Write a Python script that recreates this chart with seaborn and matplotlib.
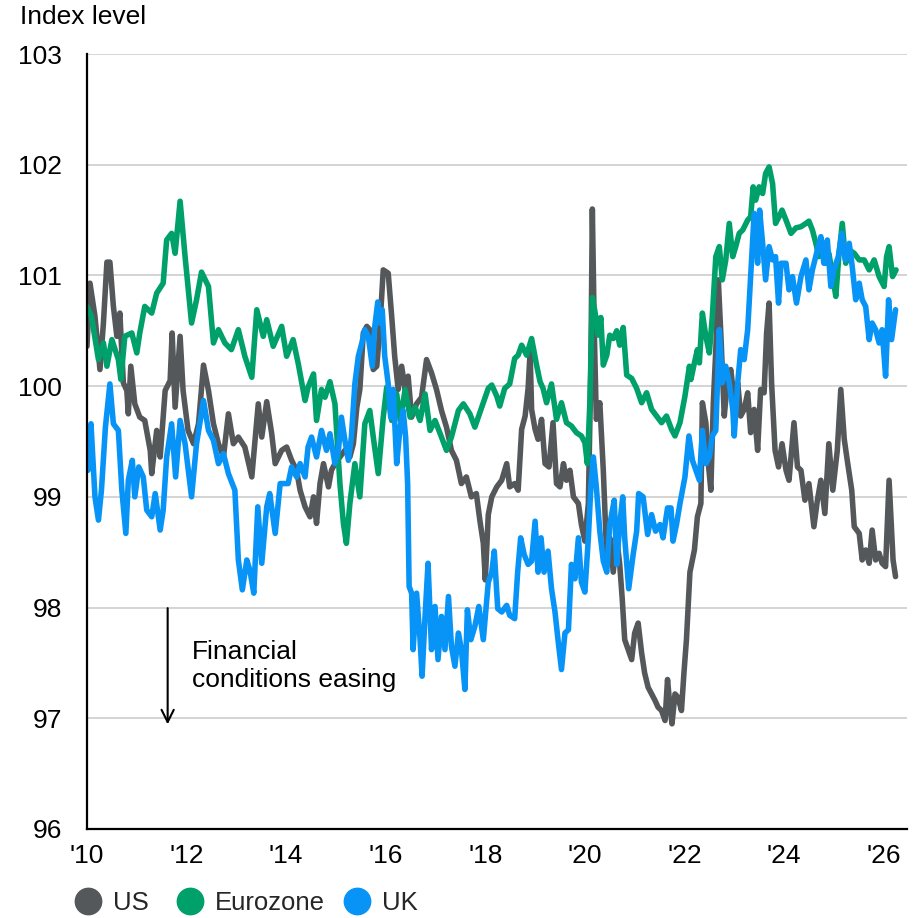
import matplotlib
matplotlib.use("Agg")
import matplotlib.pyplot as plt
from matplotlib.lines import Line2D
import seaborn as sns
import pandas as pd

# ---------------- data ----------------
series_names = ["US", "Eurozone", "UK"]
series_colors = ["#55585A", "#00A06B", "#0894F7"]

us_dates = [2010.0, 2010.06, 2010.16, 2010.26, 2010.33, 2010.4, 2010.46, 2010.53, 2010.6, 2010.66,
            2010.73, 2010.8, 2010.83, 2010.88, 2010.96, 2011.06, 2011.16, 2011.27, 2011.3, 2011.4,
            2011.47, 2011.57, 2011.67, 2011.71, 2011.77, 2011.87, 2011.93, 2012.03, 2012.14, 2012.24,
            2012.34, 2012.44, 2012.54, 2012.64, 2012.74, 2012.84, 2012.94, 2013.04, 2013.17, 2013.31,
            2013.37, 2013.44, 2013.51, 2013.61, 2013.71, 2013.78, 2013.91, 2014.01,
            2014.11, 2014.21, 2014.28, 2014.38, 2014.48, 2014.55, 2014.61, 2014.68, 2014.75, 2014.85,
            2014.91, 2014.98, 2015.08, 2015.18, 2015.28, 2015.35, 2015.42, 2015.48, 2015.55, 2015.62,
            2015.68, 2015.75, 2015.82, 2015.88, 2015.95, 2016.05, 2016.12, 2016.18, 2016.25, 2016.32,
            2016.39, 2016.45, 2016.52, 2016.62, 2016.72, 2016.82, 2016.92, 2017.02, 2017.12, 2017.22,
            2017.32, 2017.42, 2017.52, 2017.62, 2017.72, 2017.82, 2017.89, 2017.96, 2018.0,
            2018.06, 2018.13, 2018.23, 2018.33, 2018.43, 2018.49, 2018.59, 2018.66, 2018.73, 2018.8,
            2018.86, 2018.9, 2018.93, 2019.0, 2019.06, 2019.13, 2019.2, 2019.28, 2019.36, 2019.43,
            2019.5, 2019.57, 2019.63, 2019.7, 2019.77, 2019.87, 2019.93, 2020.0, 2020.07, 2020.12,
            2020.15, 2020.19, 2020.23, 2020.3, 2020.37, 2020.44, 2020.5, 2020.57, 2020.64, 2020.7,
            2020.75, 2020.8, 2020.87, 2020.94, 2021.0, 2021.07, 2021.14, 2021.2, 2021.27, 2021.34,
            2021.41, 2021.47, 2021.54, 2021.61, 2021.66, 2021.71, 2021.75, 2021.81, 2021.87, 2021.94,
            2021.99, 2022.04, 2022.11,
            2022.2, 2022.26, 2022.33, 2022.36, 2022.43, 2022.48, 2022.53, 2022.58, 2022.63, 2022.68,
            2022.73, 2022.8, 2022.86, 2022.93, 2023.0, 2023.07, 2023.13, 2023.2, 2023.27, 2023.33,
            2023.4, 2023.47, 2023.53, 2023.6, 2023.65, 2023.7, 2023.75, 2023.82, 2023.89, 2023.96,
            2024.04, 2024.1, 2024.2, 2024.27, 2024.34, 2024.42, 2024.5, 2024.6, 2024.67, 2024.74,
            2024.82, 2024.9, 2024.98, 2025.07, 2025.14, 2025.21, 2025.27, 2025.36, 2025.41, 2025.51,
            2025.57, 2025.64, 2025.71, 2025.77, 2025.84, 2025.91, 2025.97, 2026.04, 2026.11, 2026.14,
            2026.19, 2026.24]
us_vals = [100.36, 100.93, 100.63, 100.15, 100.57, 101.12, 101.12, 100.72, 100.45, 100.66,
           100.03, 99.96, 99.75, 100.18, 99.84, 99.72, 99.69, 99.42, 99.21, 99.6,
           99.36, 99.96, 100.05, 100.48, 99.81, 100.45, 99.96, 99.6, 99.48, 99.66,
           100.19, 99.96, 99.66, 99.48, 99.36, 99.75, 99.48, 99.54, 99.45, 99.18,
           99.48, 99.84, 99.54, 99.86, 99.57, 99.3, 99.42, 99.45,
           99.33, 99.24, 99.06, 98.91, 98.82, 99.0, 98.76, 99.12, 99.3, 99.09,
           99.24, 99.3, 99.36, 99.42, 99.36, 99.48, 99.81, 99.97, 100.48, 100.54,
           100.51, 100.15, 100.18, 100.51, 101.05, 101.02, 100.63, 100.27, 99.97, 100.18,
           99.97, 100.09, 99.72, 99.84, 99.9, 100.24, 100.12, 99.97, 99.78, 99.63,
           99.42, 99.33, 99.12, 99.18, 99.0, 99.03, 98.79, 98.58, 98.25,
           98.84, 99.0, 99.09, 99.15, 99.3, 99.09, 99.12, 99.06, 99.61, 99.73,
           99.98, 100.31, 99.79, 99.61, 99.52, 99.7, 99.3, 99.27, 99.67, 99.12,
           99.09, 99.3, 99.15, 99.24, 99.0, 98.94, 98.75, 98.6, 98.94, 100.16,
           101.6, 100.47, 99.7, 99.85, 99.24, 98.45, 98.63, 98.32, 98.63, 98.39,
           98.08, 97.71, 97.62, 97.53, 97.77, 97.86, 97.59, 97.41, 97.28, 97.22,
           97.16, 97.1, 97.07, 96.98, 97.35, 97.1, 96.95, 97.22, 97.19, 97.07,
           97.41, 97.71, 98.32,
           98.52, 98.82, 98.94, 99.85, 99.67, 99.3, 99.06, 99.85, 100.33, 100.96,
           100.48, 99.73, 100.03, 100.15, 99.88, 100.03, 99.73, 99.79, 99.94, 99.58,
           99.79, 99.42, 99.97, 99.94, 100.48, 100.75, 100.03, 99.42, 99.27, 99.48,
           99.24, 99.15, 99.67, 99.27, 99.24, 98.97, 99.12, 98.73, 98.97, 99.15,
           98.85, 99.48, 99.06, 99.42, 99.97, 99.52, 99.33, 99.06, 98.73, 98.67,
           98.43, 98.52, 98.4, 98.7, 98.43, 98.49, 98.4, 98.37, 99.15, 98.88,
           98.43, 98.28]

ez_dates = [2010.0, 2010.09, 2010.23, 2010.33, 2010.4, 2010.5, 2010.63, 2010.68, 2010.76, 2010.9,
            2011.0, 2011.06, 2011.16, 2011.3, 2011.4, 2011.53, 2011.6, 2011.7, 2011.77, 2011.87,
            2011.97, 2012.1, 2012.2, 2012.3, 2012.44, 2012.54, 2012.64, 2012.77, 2012.9, 2013.04,
            2013.17, 2013.31, 2013.41, 2013.54, 2013.61, 2013.74, 2013.91, 2014.01,
            2014.14, 2014.24, 2014.38, 2014.44, 2014.55, 2014.61, 2014.71, 2014.78, 2014.88, 2014.98,
            2015.08, 2015.15, 2015.21, 2015.28, 2015.38, 2015.48, 2015.58, 2015.68, 2015.75, 2015.85,
            2015.95, 2016.02, 2016.12, 2016.22, 2016.29, 2016.39, 2016.49, 2016.59, 2016.69, 2016.79,
            2016.89, 2016.99, 2017.12, 2017.22, 2017.32, 2017.46, 2017.56, 2017.69, 2017.79, 2017.93,
            2018.06, 2018.13, 2018.23, 2018.29, 2018.39, 2018.49, 2018.59, 2018.66, 2018.73, 2018.83,
            2018.93, 2019.03, 2019.1, 2019.16, 2019.23, 2019.33, 2019.43, 2019.53, 2019.63, 2019.73,
            2019.83, 2019.93, 2020.0, 2020.05, 2020.1, 2020.15, 2020.2, 2020.27, 2020.32, 2020.37,
            2020.44, 2020.5, 2020.57, 2020.64, 2020.7, 2020.77, 2020.84, 2020.94, 2021.04, 2021.14,
            2021.24, 2021.34, 2021.44, 2021.54, 2021.64, 2021.74, 2021.81, 2021.91, 2022.01,
            2022.1, 2022.13, 2022.2, 2022.26, 2022.3, 2022.36, 2022.43, 2022.5, 2022.56, 2022.63,
            2022.7, 2022.76, 2022.83, 2022.9, 2022.97, 2023.03, 2023.1, 2023.17, 2023.27, 2023.33,
            2023.38, 2023.43, 2023.5, 2023.57, 2023.63, 2023.7, 2023.77, 2023.83, 2023.9, 2023.96,
            2024.04, 2024.14, 2024.24, 2024.34, 2024.44, 2024.5, 2024.57, 2024.64, 2024.7, 2024.77,
            2024.84, 2024.9, 2024.97, 2025.04, 2025.1, 2025.17, 2025.24, 2025.31, 2025.41, 2025.51,
            2025.61, 2025.71, 2025.81, 2025.91, 2026.01, 2026.06, 2026.11, 2026.18, 2026.25]
ez_vals = [100.72, 100.63, 100.24, 100.39, 100.18, 100.42, 100.24, 100.06, 100.45, 100.48,
           100.3, 100.48, 100.72, 100.66, 100.84, 100.93, 101.32, 101.38, 101.2, 101.67,
           101.17, 100.57, 100.78, 101.03, 100.9, 100.39, 100.51, 100.39, 100.33, 100.51,
           100.27, 100.08, 100.69, 100.45, 100.6, 100.36, 100.54, 100.27,
           100.42, 100.21, 99.87, 99.99, 100.11, 99.69, 99.97, 99.9, 100.04, 99.84,
           99.12, 98.76, 98.58, 98.94, 99.3, 99.0, 99.66, 99.78, 99.54, 99.21,
           99.72, 99.99, 99.69, 99.93, 99.69, 99.97, 99.72, 99.81, 99.69, 99.93,
           99.6, 99.69, 99.54, 99.42, 99.54, 99.78, 99.84, 99.75, 99.63, 99.81,
           99.98, 100.01, 99.91, 99.82, 99.98, 100.02, 100.25, 100.28, 100.37, 100.28,
           100.43, 100.19, 100.04, 99.98, 99.85, 100.02, 99.7, 99.85, 99.67, 99.64,
           99.58, 99.55, 99.49, 99.3, 99.85, 100.8, 100.68, 100.46, 100.62, 100.19,
           100.28, 100.46, 100.43, 100.5, 100.37, 100.53, 100.1, 100.07, 99.98, 99.85,
           99.94, 99.79, 99.73, 99.67, 99.73, 99.61, 99.55, 99.67, 99.91,
           100.18, 100.06, 100.21, 100.33, 100.21, 100.66, 100.45, 100.3, 100.63, 101.17,
           101.26, 100.96, 101.14, 101.47, 101.17, 101.26, 101.38, 101.41, 101.5, 101.53,
           101.8, 101.68, 101.8, 101.74, 101.92, 101.98, 101.83, 101.47, 101.53, 101.59,
           101.5, 101.38, 101.43, 101.44, 101.47, 101.49, 101.41, 101.29, 101.17, 101.2,
           101.11, 101.2, 101.02, 100.81, 101.17, 101.47, 101.11, 101.23, 101.2, 101.14,
           101.14, 101.05, 101.14, 100.99, 100.9, 101.17, 101.26, 100.99, 101.05]

uk_dates = [2010.0, 2010.02, 2010.08, 2010.16, 2010.23, 2010.29, 2010.37, 2010.46, 2010.53, 2010.63,
            2010.7, 2010.78, 2010.83, 2010.91, 2010.96, 2011.04, 2011.13, 2011.2, 2011.3, 2011.37,
            2011.47, 2011.53, 2011.6, 2011.7, 2011.78, 2011.87, 2011.97, 2012.1, 2012.2, 2012.34,
            2012.44, 2012.54, 2012.64, 2012.74, 2012.84, 2012.97, 2013.04, 2013.12, 2013.21, 2013.27,
            2013.35, 2013.43, 2013.51, 2013.61, 2013.67, 2013.78, 2013.88, 2013.98,
            2014.04, 2014.11, 2014.21, 2014.28, 2014.38, 2014.44, 2014.51, 2014.61, 2014.71, 2014.81,
            2014.88, 2014.98, 2015.05, 2015.11, 2015.18, 2015.25, 2015.31, 2015.38, 2015.45, 2015.52,
            2015.58, 2015.65, 2015.73, 2015.78, 2015.84, 2015.88, 2015.93, 2015.98, 2016.05, 2016.1,
            2016.15, 2016.22, 2016.29, 2016.35, 2016.4, 2016.44, 2016.47, 2016.52, 2016.55, 2016.62,
            2016.69, 2016.73, 2016.79, 2016.85, 2016.92, 2016.99, 2017.05, 2017.12, 2017.19, 2017.26,
            2017.32, 2017.39, 2017.46, 2017.52, 2017.59, 2017.64, 2017.71, 2017.79, 2017.87, 2017.96,
            2018.06, 2018.13, 2018.18, 2018.25, 2018.33, 2018.43, 2018.49, 2018.59, 2018.65, 2018.71,
            2018.78, 2018.86, 2018.93, 2019.0, 2019.06, 2019.12, 2019.18, 2019.26, 2019.33, 2019.4,
            2019.46, 2019.53, 2019.6, 2019.67, 2019.73, 2019.8, 2019.87, 2019.93, 2020.0, 2020.07,
            2020.12, 2020.17, 2020.23, 2020.3, 2020.37, 2020.44, 2020.5, 2020.59, 2020.64, 2020.7,
            2020.76, 2020.8, 2020.88, 2020.97, 2021.04, 2021.08, 2021.17, 2021.26, 2021.34, 2021.42,
            2021.51, 2021.57, 2021.66, 2021.73, 2021.77, 2021.84, 2021.91, 2022.01, 2022.09,
            2022.16, 2022.23, 2022.3, 2022.36, 2022.43, 2022.5, 2022.56, 2022.63, 2022.7, 2022.76,
            2022.83, 2022.9, 2022.97, 2023.0, 2023.07, 2023.13, 2023.2, 2023.27, 2023.33, 2023.4,
            2023.47, 2023.51, 2023.57, 2023.63, 2023.7, 2023.77, 2023.83, 2023.89, 2023.94, 2024.04,
            2024.1, 2024.17, 2024.25, 2024.34, 2024.44, 2024.5, 2024.57, 2024.67, 2024.74, 2024.8,
            2024.87, 2024.94, 2025.0, 2025.09, 2025.16, 2025.23, 2025.31, 2025.37, 2025.44, 2025.51,
            2025.57, 2025.64, 2025.71, 2025.77, 2025.84, 2025.91, 2025.97, 2026.04, 2026.1, 2026.16,
            2026.24]
uk_vals = [99.39, 99.24, 99.66, 99.0, 98.79, 99.06, 99.63, 100.02, 99.66, 99.6,
           99.06, 98.67, 99.15, 99.33, 99.0, 99.27, 99.18, 98.88, 98.82, 99.03,
           98.7, 98.88, 99.36, 99.66, 99.18, 99.69, 99.48, 99.0, 99.48, 99.87,
           99.6, 99.51, 99.3, 99.39, 99.21, 99.06, 98.43, 98.16, 98.43, 98.34,
           98.13, 98.91, 98.4, 98.91, 99.03, 98.67, 99.12, 99.12,
           99.12, 99.27, 99.18, 99.3, 99.18, 99.45, 99.54, 99.36, 99.6, 99.42,
           99.57, 99.3, 99.42, 99.72, 99.51, 99.33, 99.54, 100.02, 100.27, 100.39,
           100.51, 100.45, 100.18, 100.54, 100.76, 100.57, 100.69, 100.27, 100.02, 99.72,
           99.97, 99.3, 99.63, 99.78, 99.54, 99.12, 98.19, 98.13, 97.62, 98.13,
           97.71, 97.38, 97.92, 98.4, 97.62, 98.01, 97.53, 97.92, 97.62, 98.1,
           97.65, 97.47, 97.77, 97.62, 97.26, 97.98, 97.71, 97.83, 98.01, 97.71,
           98.23, 98.32, 98.51, 97.99, 97.96, 98.02, 97.93, 97.9, 98.32, 98.63,
           98.48, 98.39, 98.42, 98.78, 98.32, 98.63, 98.32, 98.51, 98.17, 97.96,
           97.71, 97.44, 97.77, 97.8, 98.39, 98.26, 98.63, 98.23, 98.14, 98.63,
           99.09, 99.36, 99.09, 98.69, 98.42, 98.32, 98.75, 98.97, 98.39, 98.75,
           99.0, 98.63, 98.17, 98.48, 98.69, 99.03, 99.0, 98.66, 98.84, 98.69,
           98.75, 98.63, 98.9, 98.9, 98.6, 98.75, 98.94, 99.18, 99.55,
           99.33, 99.24, 99.15, 99.6, 99.3, 99.36, 99.55, 99.6, 100.51, 100.03,
           100.18, 100.03, 99.79, 99.55, 100.03, 100.33, 100.24, 100.51, 100.99, 101.56,
           101.11, 101.59, 101.29, 100.96, 101.26, 101.14, 101.17, 100.75, 101.11, 101.11,
           100.87, 100.99, 100.75, 100.99, 101.14, 100.87, 101.05, 101.23, 101.35, 101.11,
           101.32, 100.9, 101.05, 101.17, 101.38, 101.14, 101.29, 101.08, 100.78, 100.93,
           100.78, 100.72, 100.42, 100.57, 100.51, 100.39, 100.51, 100.09, 100.78, 100.42,
           100.69]

y_ticks = [96, 97, 98, 99, 100, 101, 102, 103]
x_ticks = [2010, 2012, 2014, 2016, 2018, 2020, 2022, 2024, 2026]
x_tick_labels = ["'10", "'12", "'14", "'16", "'18", "'20", "'22", "'24", "'26"]
y_title = "Index level"
annotation_text = "Financial\nconditions easing"

# ---------------- build long-form table ----------------
frames = []
for name, d, v in [("US", us_dates, us_vals), ("Eurozone", ez_dates, ez_vals), ("UK", uk_dates, uk_vals)]:
    frames.append(pd.DataFrame({"date": d, "value": v, "series": name}))
df = pd.concat(frames, ignore_index=True)

# ---------------- style ----------------
sns.set_style("white")
plt.rcParams["font.family"] = ["Liberation Sans", "DejaVu Sans"]
FS = 19

fig = plt.figure(figsize=(9.22, 9.18), dpi=100)
ax = fig.add_axes([87 / 922, 1 - 829 / 918, (907 - 87) / 922, (829 - 54) / 918])

ax.grid(axis="y", color="#d4d4d4", linewidth=1.4)
ax.grid(axis="x", visible=False)
ax.set_axisbelow(True)

sns.lineplot(data=df, x="date", y="value", hue="series", hue_order=series_names,
             palette=dict(zip(series_names, series_colors)), linewidth=4.0,
             estimator=None, sort=False, legend=False, ax=ax,
             solid_joinstyle="round", solid_capstyle="round")

ax.set_xlim(2010, 2026.47)
ax.set_ylim(96, 103)
ax.set_yticks(y_ticks)
ax.set_yticklabels([str(t) for t in y_ticks], fontsize=FS)
ax.set_xticks(x_ticks)
ax.set_xticklabels(x_tick_labels, fontsize=FS)
ax.set_xlabel("")
ax.set_ylabel("")

for s in ["top", "right"]:
    ax.spines[s].set_visible(False)
for s in ["left", "bottom"]:
    ax.spines[s].set_color("black")
    ax.spines[s].set_linewidth(1.6)

ax.tick_params(axis="y", length=0, pad=18, colors="black")
ax.tick_params(axis="x", direction="out", length=6, width=1.5, pad=5, colors="black")

# annotation arrow + text
ax.annotate("", xy=(2011.62, 96.92), xytext=(2011.62, 98.02),
            arrowprops=dict(arrowstyle="->", color="black", lw=1.5, mutation_scale=22))
ax.text(2012.1, 97.47, annotation_text, fontsize=FS, ha="left", va="center",
        linespacing=1.2, color="black")

# title
fig.text(20 / 922, 1 - 17 / 918, y_title, fontsize=FS, ha="left", va="center", color="black")

# legend: one entry per legend so each sits where the reference puts it
legend_x_px = [75.5, 177.5, 344.5]
for name, color, xpx in zip(series_names, series_colors, legend_x_px):
    h = Line2D([0], [0], marker="o", linestyle="none", markersize=19,
               markerfacecolor=color, markeredgecolor=color)
    fig.legend([h], [name], loc="center left", bbox_to_anchor=(xpx / 922, 1 - 903 / 918),
               frameon=False, fontsize=18.5, handlelength=1.0, handletextpad=0.45,
               borderpad=0, borderaxespad=0)

fig.savefig("out.png", dpi=100)
